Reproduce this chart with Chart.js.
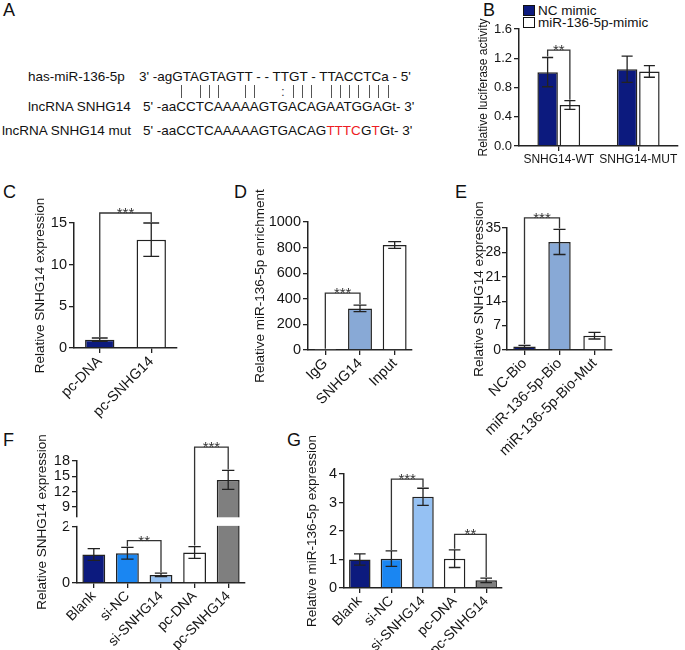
<!DOCTYPE html>
<html><head><meta charset="utf-8">
<script src="https://cdn.jsdelivr.net/npm/chart.js@4.4.1/dist/chart.umd.min.js"></script>
<style>
body{margin:0;background:#fff;width:685px;height:650px;position:relative;overflow:hidden;font-family:'Liberation Sans',Arial,sans-serif;color:#111}
canvas{position:absolute}
.t{position:absolute;white-space:pre;font-size:13.5px;line-height:1;color:#111}
.lab{position:absolute;font-size:18px;line-height:1;color:#111}
.red{color:#ee1c24}
.pc{color:transparent;position:relative}
.pc.p::after{content:'';position:absolute;left:50%;top:0;height:13px;border-left:1px solid #555}
.pc.k::after{content:':';position:absolute;left:50%;top:0;transform:translateX(-50%);color:#444}
.leg{position:absolute;font-size:13.5px;line-height:1;white-space:nowrap}
.sw{position:absolute;width:10px;height:9px;border:1px solid #111}
</style></head><body>
<div class="lab" style="left:3px;top:1px">A</div>
<div class="lab" style="left:483px;top:1px">B</div>
<div class="lab" style="left:3px;top:183px">C</div>
<div class="lab" style="left:234px;top:183px">D</div>
<div class="lab" style="left:455px;top:183px">E</div>
<div class="lab" style="left:3px;top:431px">F</div>
<div class="lab" style="left:287px;top:431px">G</div>

<div class="t" style="left:28px;top:70px">has-miR-136-5p</div>
<div class="t" style="left:139px;top:70px">3' -agGTAGTAGTT - - TTGT - TTACCTCa - 5'</div>
<div class="t" id="pipes" style="left:143px;top:86px"></div>
<div class="t" style="left:28px;top:100px">lncRNA SNHG14</div>
<div class="t" style="left:143px;top:100px">5' -aaCCTCAAAAAGTGACAGAATGGAGt- 3'</div>
<div class="t" style="left:2px;top:124px">lncRNA SNHG14 mut</div>
<div class="t" style="left:143px;top:124px">5' -aaCCTCAAAAAGTGACAG<span class="red">TTTC</span>G<span class="red">T</span>Gt- 3'</div>

<div id="legendB"></div>

<canvas id="cB"></canvas>
<canvas id="cC"></canvas>
<canvas id="cD"></canvas>
<canvas id="cE"></canvas>
<canvas id="cF"></canvas>
<canvas id="cG"></canvas>
<script>
// ================= DATA =================
// Panel A: base-pairing marks under lncRNA target letters
const lncPrefix = "5' -aa";
const lncTarget = "CCTCAAAAAGTGACAGAATGGAG";
const pairIdx = [0, 2, 3, 4, 7, 8, 12, 13, 14, 16, 17, 18, 19, 20, 21, 22];
const wobbleIdx = [11];

// Panel B
const bCategories = ['SNHG14-WT', 'SNHG14-MUT'];
const bSeriesNames = ['NC mimic', 'miR-136-5p-mimic'];
const bNC = [1.01, 1.05];
const bNCErr = [0.20, 0.18];
const bMimic = [0.56, 1.02];
const bMimicErr = [0.06, 0.08];
const bTicks = [0, 0.4, 0.8, 1.2, 1.6];
const bBrackets = [{from: [0, 0], to: [1, 0], y: 1.31, text: '**'}];

// Panel C
const cCategories = ['pc-DNA', 'pc-SNHG14'];
const cValues = [1.0, 13.0];
const cErr = [0.2, 2.0];
const cTicks = [0, 5, 10, 15];
const cBrackets = [{from: [0, 0], to: [0, 1], y: 16.2, text: '***'}];

// Panel D
const dCategories = ['IgG', 'SNHG14', 'Input'];
const dValues = [1, 325, 820];
const dErr = [0, 25, 26];
const dTicks = [0, 200, 400, 600, 800, 1000];
const dBrackets = [{from: [0, 0], to: [0, 1], y: 445, text: '***'}];

// Panel E
const eCategories = ['NC-Bio', 'miR-136-5p-Bio', 'miR-136-5p-Bio-Mut'];
const eValues = [1.0, 31.0, 4.1];
const eErr = [0.35, 3.6, 0.95];
const eTicks = [0, 7, 14, 21, 28, 35];
const eBrackets = [{from: [0, 0], to: [0, 1], y: 37.9, text: '***'}];

// Panels F & G
const fgCategories = ['Blank', 'si-NC', 'si-SNHG14', 'pc-DNA', 'pc-SNHG14'];
const fValues = [1.02, 1.06, 0.29, 1.09, 14.3];
const fErr = [0.21, 0.21, 0.06, 0.21, 1.85];
const fLowTicks = [0, 2];
const fHighTicks = [9, 12, 15, 18];
const fBrackets = [{from: [0, 1], to: [0, 2], y: 1.51, text: '**'},
                   {from: [0, 3], to: [0, 4], y: 20.7, text: '***'}];

const gValues = [1.0, 1.03, 3.2, 1.03, 0.27];
const gErr = [0.2, 0.27, 0.3, 0.31, 0.08];
const gTicks = [0, 1, 2, 3, 4];
const gBrackets = [{from: [0, 1], to: [0, 2], y: 3.82, text: '***'},
                   {from: [0, 3], to: [0, 4], y: 1.88, text: '**'}];

// ================= STYLE =================
const NAVY = '#0c1a7e', STEEL = '#88a9d6', BRIGHT = '#1a86f2', LIGHT = '#95c1f3', GRAY = '#7f7f7f', WHITE = '#ffffff';
const AX = '#222', TXT = '#151515';
const FONT = "'Liberation Sans', Arial, sans-serif";
Chart.defaults.font.family = FONT;
Chart.defaults.font.size = 14.5;
Chart.defaults.color = TXT;

// Panel A pipes
(function(){
  let html = '<span class="pc">' + lncPrefix + '</span>';
  for (let i = 0; i < lncTarget.length; i++) {
    const cls = pairIdx.includes(i) ? ' p' : (wobbleIdx.includes(i) ? ' k' : '');
    html += '<span class="pc' + cls + '">' + lncTarget[i] + '</span>';
  }
  document.getElementById('pipes').innerHTML = html;
})();

// Legend B
(function(){
  const cols = [NAVY, WHITE];
  let h = '';
  bSeriesNames.forEach((n, i) => {
    h += '<div class="sw" style="left:523px;top:' + (5 + i*12) + 'px;background:' + cols[i] + '"></div>';
    h += '<div class="leg" style="left:538px;top:' + (4 + i*12) + 'px">' + n + '</div>';
  });
  document.getElementById('legendB').innerHTML = h;
})();

// ================= PLUGIN =================
function yScaleFor(chart, v) {
  const s = chart.scales;
  if (s.yHigh && v > s.yLow.max) return s.yHigh;
  return s.yLow || s.y;
}
function yPix(chart, v) { return yScaleFor(chart, v).getPixelForValue(v); }

const annot = {
  id: 'annot',
  beforeDatasetDraw(chart, args, o) {
    if (!o.clipToAxis) return;
    const ys = chart.scales[args.meta.yAxisID];
    const ctx = chart.ctx;
    ctx.save(); ctx.beginPath();
    ctx.rect(chart.chartArea.left - 3, ys.top, chart.chartArea.width + 6, ys.bottom - ys.top + 2);
    ctx.clip();
  },
  afterDatasetDraw(chart, args, o) { if (o.clipToAxis) chart.ctx.restore(); },
  afterDatasetsDraw(chart, args, o) {
    const ctx = chart.ctx;
    if (o.gap) {
      const yTop = chart.scales.yHigh.getPixelForValue(o.gap[1]);
      const yBot = chart.scales.yLow.getPixelForValue(o.gap[0]);
      ctx.save(); ctx.fillStyle = '#fff';
      const x0 = chart.scales.yLow.right - 9;
      ctx.fillRect(x0, yTop, chart.chartArea.right + 4 - x0, yBot - yTop);
      ctx.restore();
    }
    ctx.save();
    ctx.strokeStyle = AX; ctx.lineWidth = 1.3;
    chart.data.datasets.forEach((ds, di) => {
      if (!ds.errors) return;
      const meta = chart.getDatasetMeta(di);
      meta.data.forEach((bar, i) => {
        const v = ds.data[i], e = ds.errors[i];
        if (!e) return;
        const top = yPix(chart, v + e), bot = yPix(chart, v - e);
        const hw = bar.width * 0.27;
        ctx.beginPath();
        ctx.moveTo(bar.x, top); ctx.lineTo(bar.x, bot);
        ctx.moveTo(bar.x - hw, top); ctx.lineTo(bar.x + hw, top);
        ctx.moveTo(bar.x - hw, bot); ctx.lineTo(bar.x + hw, bot);
        ctx.stroke();
      });
    });
    (o.brackets || []).forEach(b => {
      const end = (ref) => {
        const ds = chart.data.datasets[ref[0]];
        const bar = chart.getDatasetMeta(ref[0]).data[ref[1]];
        const v = ds.data[ref[1]] + (ds.errors ? ds.errors[ref[1]] : 0);
        return {x: bar.x, y: yPix(chart, v) - 1};
      };
      const a = end(b.from), c = end(b.to);
      const y = yPix(chart, b.y);
      ctx.strokeStyle = '#333'; ctx.lineWidth = 1.3;
      ctx.beginPath(); ctx.moveTo(a.x, a.y); ctx.lineTo(a.x, y); ctx.lineTo(c.x, y); ctx.lineTo(c.x, c.y); ctx.stroke();
      ctx.fillStyle = '#333'; ctx.font = '15px ' + FONT; ctx.textAlign = 'center'; ctx.textBaseline = 'alphabetic';
      ctx.fillText(b.text, (a.x + c.x) / 2, y + 5);
    });
    if (o.vTitle) {
      const t = o.vTitle;
      const yc = (chart.scales.yHigh.top + chart.scales.yLow.bottom) / 2;
      ctx.fillStyle = TXT; ctx.font = '13.5px ' + FONT; ctx.textAlign = 'center'; ctx.textBaseline = 'middle';
      ctx.translate(t.x, yc); ctx.rotate(-Math.PI / 2);
      ctx.fillText(t.text, 0, 0);
    }
    ctx.restore();
  }
};

// ================= HELPERS =================
function place(id, box) {
  const c = document.getElementById(id);
  c.width = box.w; c.height = box.h;
  c.style.left = box.x + 'px'; c.style.top = box.y + 'px';
  c.style.width = box.w + 'px'; c.style.height = box.h + 'px';
  return c;
}
function yAxis(box, area, ticks, title, titleX, fmt, extra, fs, tfs, pad) {
  fs = fs || 14.5; tfs = tfs || 13.5;
  return Object.assign({
    type: 'linear', position: 'left',
    min: ticks[0], max: ticks[ticks.length - 1],
    afterBuildTicks: s => { s.ticks = ticks.map(v => ({value: v})); },
    afterFit: s => { s.width = area.l - box.x; },
    grid: {display: true, drawOnChartArea: false, drawTicks: true, tickLength: 5, color: AX, lineWidth: 1.3},
    border: {display: true, color: AX, width: 1.5},
    ticks: {autoSkip: false, padding: pad === undefined ? 2 : pad, color: TXT, font: {size: fs}, callback: fmt || (v => String(v))},
    title: title ? {display: true, text: title, color: TXT, font: {size: tfs},
                    padding: {top: titleX - box.x - tfs * 0.6, bottom: 0}} : {display: false}
  }, extra || {});
}
function xAxis(box, area, rot, fs) {
  return {
    type: 'category', offset: true,
    afterFit: s => { s.height = box.y + box.h - area.b; },
    grid: {display: true, offset: false, drawOnChartArea: false, drawTicks: true, tickLength: 5, color: AX, lineWidth: 1.3},
    border: {display: true, color: AX, width: 1.5},
    ticks: {autoSkip: false, maxRotation: rot, minRotation: rot, padding: rot ? 0 : 1, color: TXT, font: {size: fs || 14.5}}
  };
}
function barChart(id, box, area, labels, datasets, scales, pluginOpts) {
  const c = place(id, box);
  return new Chart(c, {
    type: 'bar',
    data: {labels, datasets},
    options: {
      responsive: false, animation: false, devicePixelRatio: 1,
      layout: {padding: {top: area.t - box.y, right: box.x + box.w - area.r, left: 0, bottom: 0}},
      plugins: {legend: {display: false}, tooltip: {enabled: false}, annot: pluginOpts},
      scales
    },
    plugins: [annot]
  });
}
const barStyle = (bg, cat, bp) => ({backgroundColor: bg, borderColor: AX, borderWidth: 1.5, categoryPercentage: cat, barPercentage: bp});

// ================= CHARTS =================
// B
(function(){
  const box = {x: 470, y: 0, w: 215, h: 175}, area = {l: 519, r: 678, t: 29, b: 146};
  barChart('cB', box, area, bCategories, [
    Object.assign({label: bSeriesNames[0], data: bNC, errors: bNCErr}, barStyle(NAVY, 0.56, 0.92)),
    Object.assign({label: bSeriesNames[1], data: bMimic, errors: bMimicErr}, barStyle(WHITE, 0.56, 0.92))
  ], {
    x: xAxis(box, area, 0, 12),
    y: yAxis(box, area, bTicks, 'Relative luciferase activity', 484, v => v.toFixed(1), null, 13, 12)
  }, {brackets: bBrackets});
})();
// C
(function(){
  const box = {x: 0, y: 170, w: 230, h: 260}, area = {l: 74, r: 177, t: 223, b: 348};
  barChart('cC', box, area, cCategories, [
    Object.assign({data: cValues, errors: cErr}, barStyle([NAVY, WHITE], 0.57, 1))
  ], {
    x: xAxis(box, area, 45),
    y: yAxis(box, area, cTicks, 'Relative SNHG14 expression', 40)
  }, {brackets: cBrackets});
})();
// D
(function(){
  const box = {x: 230, y: 170, w: 220, h: 260}, area = {l: 308, r: 412, t: 222, b: 350};
  barChart('cD', box, area, dCategories, [
    Object.assign({data: dValues, errors: dErr}, barStyle([WHITE, STEEL, WHITE], 0.69, 1))
  ], {
    x: xAxis(box, area, 45),
    y: yAxis(box, area, dTicks, 'Relative miR-136-5p enrichment', 260)
  }, {brackets: dBrackets});
})();
// E
(function(){
  const box = {x: 450, y: 170, w: 235, h: 290}, area = {l: 507, r: 612, t: 228, b: 350};
  barChart('cE', box, area, eCategories, [
    Object.assign({data: eValues, errors: eErr}, barStyle([NAVY, STEEL, WHITE], 0.64, 1))
  ], {
    x: xAxis(box, area, 45),
    y: yAxis(box, area, eTicks, 'Relative SNHG14 expression', 479, null, null, 14, 13.5, 1)
  }, {brackets: eBrackets});
})();
// F (broken axis: two stacked y scales)
(function(){
  const box = {x: 0, y: 420, w: 330, h: 230}, area = {l: 77, r: 245, t: 461, b: 583};
  const cols = [NAVY, BRIGHT, LIGHT, WHITE, GRAY];
  barChart('cF', box, area, fgCategories, [
    Object.assign({data: fValues, errors: fErr, yAxisID: 'yLow', grouped: false}, barStyle(cols, 0.68, 1)),
    Object.assign({data: fValues, yAxisID: 'yHigh', grouped: false}, barStyle(cols, 0.68, 1))
  ], {
    x: xAxis(box, area, 45, 14),
    yLow: yAxis(box, area, fLowTicks, null, 0, null, {min: 0, max: 2.2, stack: 'f', stackWeight: 1.02}),
    yHigh: yAxis(box, area, fHighTicks, null, 0, null, {min: 6.2, max: 18, stack: 'f', stackWeight: 1})
  }, {brackets: fBrackets, clipToAxis: true, gap: [2.04, 7.0], vTitle: {text: 'Relative SNHG14 expression', x: 42}});
})();
// G
(function(){
  const box = {x: 300, y: 420, w: 385, h: 230}, area = {l: 344, r: 502, t: 474, b: 588};
  barChart('cG', box, area, fgCategories, [
    Object.assign({data: gValues, errors: gErr}, barStyle([NAVY, BRIGHT, LIGHT, WHITE, GRAY], 0.68, 1))
  ], {
    x: xAxis(box, area, 45, 14),
    y: yAxis(box, area, gTicks, 'Relative miR-136-5p expression', 312)
  }, {brackets: gBrackets});
})();
</script>
</body></html>
